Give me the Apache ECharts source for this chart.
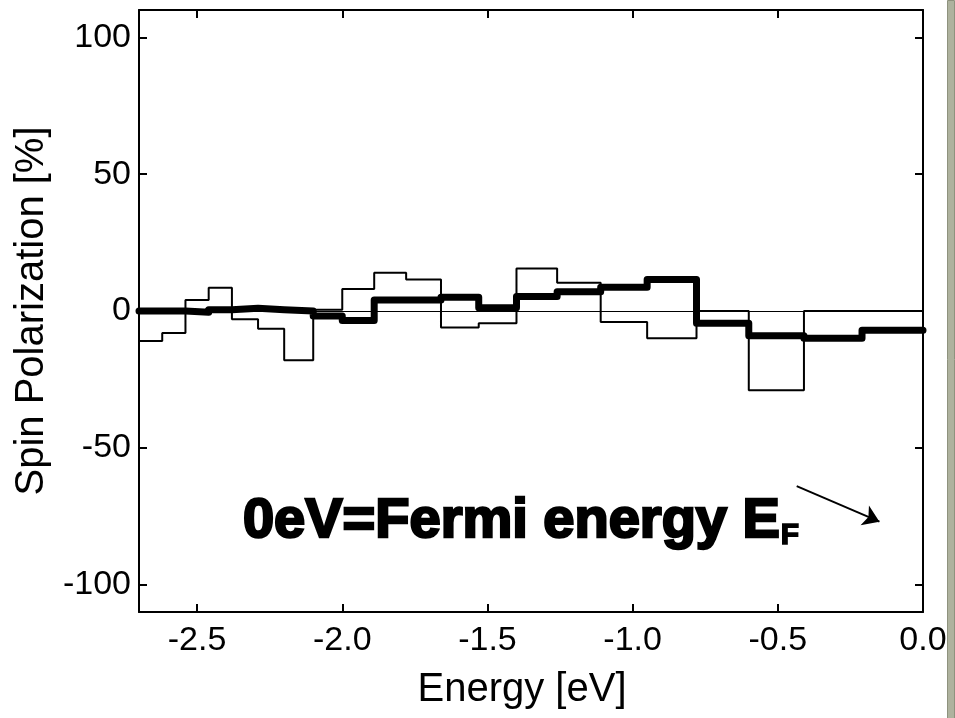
<!DOCTYPE html>
<html>
<head>
<meta charset="utf-8">
<script src="https://cdn.jsdelivr.net/npm/echarts@6/dist/echarts.min.js"></script>
<style>
    html, body {margin: 0; padding: 0; background: #fff;}
    #main {width: 955px; height: 718px;}
</style>
</head>
<body>
<div id="main"></div>
<script>
// bin edges [eV] (non uniform)
var binEdges = [-2.70, -2.62, -2.54, -2.46, -2.38, -2.29, -2.20, -2.10, -2.00, -1.89, -1.78,
    -1.66, -1.53, -1.40, -1.26, -1.11, -0.95, -0.78, -0.60, -0.41, -0.21, 0.00];
// thin histogram
var thinValues = [-11, -8, 4, 8.5, -3, -6.5, -18, 0.5, 8, 14, 11.5,
    -6, -4.5, 15.5, 10.3, -4, -10, 0, -29, 0, 0];
// thick (smoothed) histogram
var thickValues = [0, 0, -0.5, 0.5, 1, 0.5, 0, -1.8, -3.5, 4, 4,
    5, 1.2, 5.3, 7, 8.7, 11.5, -4.5, -9, -10, -7];

var xTicks = [-2.5, -2.0, -1.5, -1.0, -0.5, 0.0];
var yTicks = [-100, -50, 0, 50, 100];

var labelFont = 'Liberation Sans';

function stepData(values) {
    var out = [];
    for (var i = 0; i < values.length; i++) {
        out.push([binEdges[i], values[i]]);
    }
    out.push([binEdges[binEdges.length - 1], values[values.length - 1]]);
    return out;
}

function xAxisOpt(pos, showLabel) {
    return {
        type: 'value',
        position: pos,
        min: -2.7,
        max: 0,
        name: showLabel ? 'Energy [eV]' : '',
        nameLocation: 'middle',
        nameGap: 58,
        nameTextStyle: {fontFamily: labelFont, fontSize: 40, color: '#000', padding: [0, 18, 0, 0]},
        axisLine: {show: true, onZero: false, lineStyle: {color: '#000', width: 2}},
        axisTick: {show: true, inside: true, length: 8, customValues: xTicks, lineStyle: {color: '#000', width: 2}},
        axisLabel: {
            show: showLabel, customValues: xTicks, margin: 12,
            fontFamily: labelFont, fontSize: 34, color: '#000',
            formatter: function (v) { return v.toFixed(1); }
        },
        splitLine: {show: false}
    };
}

function yAxisOpt(pos, showLabel) {
    return {
        type: 'value',
        position: pos,
        min: -110,
        max: 110,
        name: showLabel ? 'Spin Polarization [%]' : '',
        nameLocation: 'middle',
        nameGap: 68,
        nameTextStyle: {fontFamily: labelFont, fontSize: 40, color: '#000'},
        axisLine: {show: true, onZero: false, lineStyle: {color: '#000', width: 2}},
        axisTick: {show: true, inside: true, length: 8, customValues: yTicks, lineStyle: {color: '#000', width: 2}},
        axisLabel: {
            show: showLabel, customValues: yTicks, margin: 8,
            fontFamily: labelFont, fontSize: 34, color: '#000'
        },
        splitLine: {show: false}
    };
}

var chart = echarts.init(document.getElementById('main'));

var option = {
    animation: false,
    backgroundColor: '#fff',
    grid: {left: 139, right: 32, top: 10, bottom: 106},
    xAxis: [xAxisOpt('bottom', true), xAxisOpt('top', false)],
    yAxis: [yAxisOpt('left', true), yAxisOpt('right', false)],
    series: [
        {
            name: 'thin',
            type: 'line',
            step: 'end',
            data: stepData(thinValues),
            symbol: 'none',
            lineStyle: {color: '#000', width: 2},
            markLine: {
                silent: true,
                symbol: 'none',
                label: {show: false},
                lineStyle: {color: '#000', width: 1, type: 'solid'},
                data: [{yAxis: 0}]
            }
        },
        {
            name: 'thick',
            type: 'line',
            step: 'end',
            data: stepData(thickValues),
            symbol: 'none',
            lineStyle: {color: '#000', width: 7, join: 'round', cap: 'round'},
            markLine: {
                silent: true,
                symbol: ['none', 'arrow'],
                symbolSize: 16,
                label: {show: false},
                lineStyle: {color: '#000', width: 2, type: 'solid'},
                data: [[{coord: [-0.435, -64]}, {coord: [-0.15, -77]}]]
            }
        }
    ]
};
chart.setOption(option);

// annotation text placed from data coordinates
var tPos = chart.convertToPixel({gridIndex: 0}, [-2.342, -77]);
var sPos = chart.convertToPixel({gridIndex: 0}, [-0.49, -82]);

chart.setOption({
    graphic: [
        {
            type: 'text',
            x: tPos[0],
            y: tPos[1],
            style: {
                text: '0eV=Fermi energy E',
                fontFamily: labelFont,
                fontWeight: 'bold',
                fontSize: 56,
                fill: '#000',
                stroke: '#000',
                lineWidth: 2.5,
                verticalAlign: 'middle'
            }
        },
        {
            type: 'text',
            x: sPos[0],
            y: sPos[1],
            style: {
                text: 'F',
                fontFamily: labelFont,
                fontWeight: 'bold',
                fontSize: 30,
                fill: '#000',
                stroke: '#000',
                lineWidth: 1.5,
                verticalAlign: 'middle'
            }
        },
        {
            // window border strip on the right
            type: 'rect',
            right: 0,
            top: 0,
            shape: {width: 7, height: 718},
            style: {fill: '#aeb29e', stroke: '#8e927e', lineWidth: 1}
        }
    ]
});
</script>
</body>
</html>
